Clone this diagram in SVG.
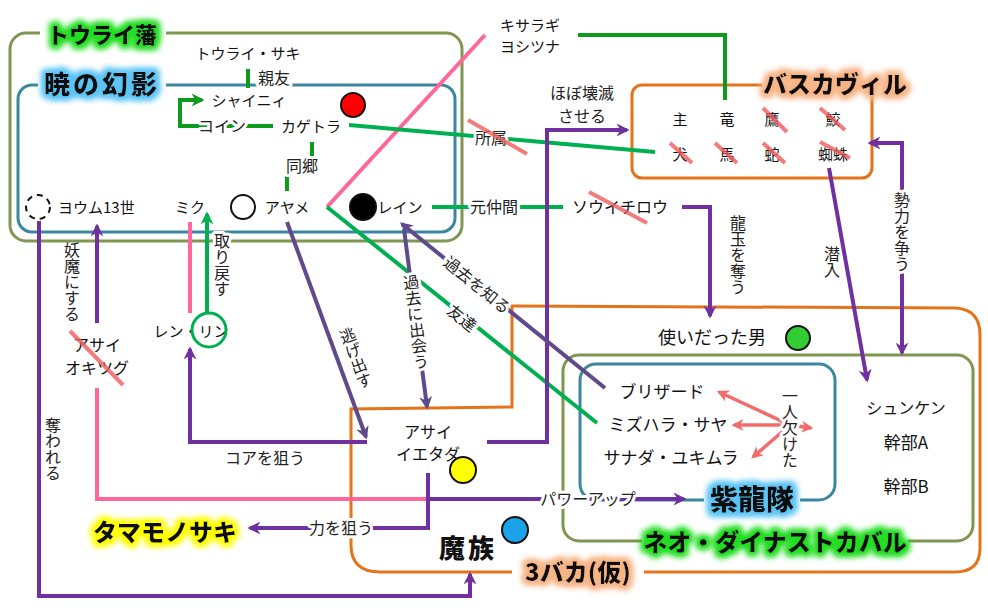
<svg xmlns="http://www.w3.org/2000/svg" width="988" height="612" viewBox="0 0 988 612">
<style>
text{font-family:"Noto Sans CJK JP","Noto Sans",sans-serif;fill:#111}
.n{font-size:15px}
.nb{font-size:16px}
.l{font-size:16px;fill:#222;stroke:#fff;stroke-width:6px;paint-order:stroke;stroke-linejoin:round}
.l0{font-size:16px;fill:#222}
.v{writing-mode:vertical-rl}
.t{font-weight:900;fill:#111}
.c{text-anchor:middle}
.box{fill:none;stroke-width:3}
.olive{stroke:#7f9650}
.teal{stroke:#3b879f}
.orng{stroke:#e4741c}
.ln{fill:none;stroke-width:4}
.g{stroke:#00b050}
.dg{stroke:#0d9a1d}
.p{stroke:#7030a0}
.dp{stroke:#5f4b8b}
.pk{stroke:#ff6699}
.rd{stroke:#f46b6b;stroke-width:3.5;fill:none}
.x{stroke:#f05a5a;stroke-opacity:.8;stroke-width:4}
.dot{stroke:#111;stroke-width:2}
</style>
<defs>
<marker id="aP" viewBox="0 0 10 10" refX="8" refY="5" markerWidth="13" markerHeight="13" markerUnits="userSpaceOnUse" orient="auto-start-reverse"><path d="M0,0 L10,5 L0,10 L3,5 z" fill="#7030a0"/></marker>
<marker id="aD" viewBox="0 0 10 10" refX="8" refY="5" markerWidth="13" markerHeight="13" markerUnits="userSpaceOnUse" orient="auto"><path d="M0,0 L10,5 L0,10 L3,5 z" fill="#5f4b8b"/></marker>
<marker id="aG" viewBox="0 0 10 10" refX="8" refY="5" markerWidth="13" markerHeight="13" markerUnits="userSpaceOnUse" orient="auto"><path d="M0,0 L10,5 L0,10 L3,5 z" fill="#00b050"/></marker>
<marker id="aDG" viewBox="0 0 10 10" refX="8" refY="5" markerWidth="13" markerHeight="13" markerUnits="userSpaceOnUse" orient="auto"><path d="M0,0 L10,5 L0,10 L3,5 z" fill="#0d9a1d"/></marker>
<marker id="aR" viewBox="0 0 10 10" refX="8" refY="5" markerWidth="12" markerHeight="12" markerUnits="userSpaceOnUse" orient="auto"><path d="M0,0 L10,5 L0,10 L3,5 z" fill="#f46b6b"/></marker>
<filter id="fG" x="-20%" y="-60%" width="140%" height="220%"><feMorphology in="SourceAlpha" operator="dilate" radius="2.5" result="d"/><feGaussianBlur in="d" stdDeviation="3" result="b"/><feFlood flood-color="#22dd22"/><feComposite in2="b" operator="in" result="c"/><feMerge><feMergeNode in="c"/><feMergeNode in="c"/><feMergeNode in="SourceGraphic"/></feMerge></filter>
<filter id="fB" x="-20%" y="-60%" width="140%" height="220%"><feMorphology in="SourceAlpha" operator="dilate" radius="2.5" result="d"/><feGaussianBlur in="d" stdDeviation="3" result="b"/><feFlood flood-color="#5cc4f5"/><feComposite in2="b" operator="in" result="c"/><feMerge><feMergeNode in="c"/><feMergeNode in="c"/><feMergeNode in="SourceGraphic"/></feMerge></filter>
<filter id="fO" x="-20%" y="-60%" width="140%" height="220%"><feMorphology in="SourceAlpha" operator="dilate" radius="2.5" result="d"/><feGaussianBlur in="d" stdDeviation="3" result="b"/><feFlood flood-color="#f7b485"/><feComposite in2="b" operator="in" result="c"/><feMerge><feMergeNode in="c"/><feMergeNode in="c"/><feMergeNode in="SourceGraphic"/></feMerge></filter>
<filter id="fY" x="-20%" y="-60%" width="140%" height="220%"><feMorphology in="SourceAlpha" operator="dilate" radius="2.5" result="d"/><feGaussianBlur in="d" stdDeviation="3" result="b"/><feFlood flood-color="#ffff00"/><feComposite in2="b" operator="in" result="c"/><feMerge><feMergeNode in="c"/><feMergeNode in="c"/><feMergeNode in="SourceGraphic"/></feMerge></filter>
</defs>
<rect width="988" height="612" fill="#fff"/>

<!-- containers -->
<g id="touraihan">
<rect class="box olive" x="10" y="33" width="452" height="208" rx="16"/>
<rect x="40" y="24" width="126" height="20" fill="#fff"/>
<text class="t c" x="102" y="43" font-size="22" filter="url(#fG)">トウライ藩</text>
</g>
<g id="akatsuki">
<rect class="box teal" x="18" y="85" width="437" height="147" rx="14"/>
<rect x="38" y="74" width="128" height="22" fill="#fff"/>
<text class="t c" x="102" y="94" font-size="26" letter-spacing="3" filter="url(#fB)">暁の幻影</text>
</g>
<g id="baskerville">
<rect class="box orng" x="632" y="85" width="240" height="93" rx="10"/>
<rect x="762" y="76" width="146" height="18" fill="#fff"/>
<text class="t c" x="835" y="93" font-size="24" filter="url(#fO)">バスカヴィル</text>
<g font-size="15">
<text class="c" x="680" y="125">主</text><text class="c" x="727" y="125">竜</text><text class="c" x="772" y="125">鷹</text><text class="c" x="833" y="125">鮫</text>
<text class="c" x="680" y="160">犬</text><text class="c" x="727" y="160">馬</text><text class="c" x="772" y="160">蛇</text><text class="c" x="833" y="160">蜘蛛</text>
</g>
<path class="x" d="M763,108 L787,132 M820,108 L845,130 M670,143 L692,163 M715,143 L737,163 M763,143 L785,163 M820,142 L850,158"/>
</g>
<g id="sanbaka">
<path class="box orng" d="M515,306 L955,308 Q980,309 980,335 L980,548 Q980,572 955,572 L380,572 Q351,572 351,545 L351,409 L512,407 L512,306 Z"/>
<rect x="512" y="562" width="132" height="20" fill="#fff"/>
<text class="t c" x="578" y="581" font-size="24" filter="url(#fO)">3バカ(仮)</text>
</g>
<g id="neo">
<rect class="box olive" x="563" y="355" width="410" height="186" rx="16"/>
<rect x="642" y="532" width="266" height="20" fill="#fff"/>
<text class="t c" x="775" y="551" font-size="24" filter="url(#fG)">ネオ・ダイナストカバル</text>
</g>
<g id="shiryutai">
<rect class="box teal" x="580" y="364" width="255" height="136" rx="16"/>
<rect x="704" y="488" width="96" height="22" fill="#fff"/>
<text class="t c" x="752" y="510" font-size="28" filter="url(#fB)">紫龍隊</text>
</g>

<!-- connectors -->
<g id="connectors">
<path class="ln pk" d="M327,207 L485,35"/>
<path class="ln pk" d="M190,222 V313"/>
<path class="ln pk" d="M97,388 V499 H428"/>
<path class="ln dg" d="M248,69 V88"/>
<path class="ln dg" d="M273,126 H180 V100 H202" marker-end="url(#aDG)"/>
<path class="ln dg" d="M312,142 V166 H287 V191"/>
<path class="ln g" d="M349,125 L655,152"/>
<path class="ln g" d="M432,207 H563"/>
<path class="ln g" d="M327,207 L597,423"/>
<path class="ln dg" d="M578,35 H725 V100"/>
<path class="ln g" d="M207,313 V214" marker-end="url(#aG)"/>
<path class="ln p" d="M97,323 V226" marker-end="url(#aP)"/>
<path class="ln p" d="M39,221 V596 H470 V574" marker-end="url(#aP)"/>
<path class="ln p" d="M367,442 H190 V349" marker-end="url(#aP)"/>
<path class="ln p" d="M428,473 V528 H250" marker-end="url(#aP)"/>
<path class="ln p" d="M428,499 H684" marker-end="url(#aP)"/>
<path class="ln p" d="M487,442 H547 V130 H627" marker-end="url(#aP)"/>
<path class="ln p" d="M682,207 H710 V316" marker-end="url(#aP)"/>
<path class="ln p" d="M829,168 L867,380" marker-end="url(#aP)"/>
<path class="ln p" d="M870,143 H902 V353" marker-start="url(#aP)" marker-end="url(#aP)"/>
<path class="ln dp" d="M287,222 L366,437" marker-end="url(#aD)"/>
<path class="ln dp" d="M404,229 L427,407" marker-end="url(#aD)"/>
<path class="ln dp" d="M605,388 L402,224" marker-end="url(#aD)"/>
<path class="rd" d="M790,425 L719,392" marker-end="url(#aR)"/>
<path class="rd" d="M790,425 L734,425" marker-end="url(#aR)"/>
<path class="rd" d="M790,425 L753,457" marker-end="url(#aR)"/>
<path class="rd" d="M790,425 L811,428" marker-end="url(#aR)"/>
<!-- labels -->
<text class="l" x="258" y="84">親友</text>
<text class="l c" x="222" y="132">コイン</text>
<text class="l c" x="302" y="172">同郷</text>
<text class="l c" x="491" y="144">所属</text>
<path class="x" d="M468,120 L527,154"/>
<text class="l c" x="494" y="213">元仲間</text>
<text class="l c" transform="translate(462,318) rotate(38.7)" y="6">友達</text>
<text class="l v c" x="222" y="265">取り戻す</text>
<text class="l0 v c" x="72" y="282">妖魔にする</text>
<text class="l0 v c" x="53" y="449">奪われる</text>
<text class="l0 c" x="265" y="464">コアを狙う</text>
<text class="l c" x="341" y="534">力を狙う</text>
<text class="l c" x="588" y="505">パワーアップ</text>
<text class="l0 c" x="582" y="99" font-size="15">ほぼ壊滅</text>
<text class="l0 c" x="582" y="122" font-size="15">させる</text>
<text class="l0 v c" x="738" y="255">龍玉を奪う</text>
<text class="l0 v c" x="832" y="262">潜入</text>
<text class="l v c" x="902" y="232">勢力を争う</text>
<text class="l v c" transform="translate(356,358) rotate(-20)" x="0" y="0">逃げ出す</text>
<text class="l v c" transform="translate(416,322) rotate(-7)" x="0" y="0">過去に出会う</text>
<text class="l c" transform="translate(477,285) rotate(39)" y="6">過去を知る</text>
<text class="l v c" x="790" y="428">一人欠けた</text>
</g>

<!-- nodes -->
<g id="tourai-saki"><text class="n c" x="248" y="59">トウライ・サキ</text></g>
<g id="shainii"><text class="n c" x="249" y="106">シャイニィ</text></g>
<g id="kagetora"><text class="n c" x="311" y="132">カゲトラ</text><circle class="dot" cx="353" cy="105" r="12" fill="#ff0000"/></g>
<g id="youmu"><circle cx="38" cy="207" r="12" fill="#fff" stroke="#111" stroke-width="2" stroke-dasharray="6 5"/><text class="n" x="58" y="213">ヨウム13世</text></g>
<g id="miku"><text class="n c" x="190" y="213">ミク</text></g>
<g id="ayame"><circle class="dot" cx="243" cy="207" r="12" fill="#fff"/><text class="n c" x="287" y="213">アヤメ</text></g>
<g id="rein"><circle class="dot" cx="363" cy="207" r="13" fill="#000"/><text class="n c" x="400" y="213">レイン</text></g>
<g id="souichirou"><text class="nb c" x="620" y="213">ソウイチロウ</text><path class="x" d="M589,192 L647,223"/></g>
<g id="kisaragi"><text class="n" x="500" y="31">キサラギ</text><text class="n" x="500" y="52">ヨシツナ</text></g>
<g id="asai-okitsugu"><text class="nb c" x="97" y="351">アサイ</text><text class="nb c" x="97" y="374">オキツグ</text><path class="x" d="M70,331 L123,385"/></g>
<g id="ren-rin"><text class="n c" x="191" y="337">レン・リン</text><circle cx="209" cy="330" r="17" fill="none" stroke="#00b050" stroke-width="3"/></g>
<g id="asai-ietada"><text class="nb c" x="428" y="438">アサイ</text><text class="nb c" x="428" y="460">イエタダ</text><circle class="dot" cx="463" cy="470" r="13" fill="#ffff00"/></g>
<g id="tamamonosaki"><text class="t c" x="165" y="541" font-size="24" filter="url(#fY)">タマモノサキ</text></g>
<g id="mazoku"><circle class="dot" cx="515" cy="530" r="13" fill="#1aa3e8"/><text class="t c" x="468" y="558" font-size="26" letter-spacing="3">魔族</text></g>
<g id="tsukai"><text class="c" x="712" y="344" font-size="18">使いだった男</text><circle class="dot" cx="798" cy="338" r="12" fill="#33cc33"/></g>
<g id="blizzard"><text class="c" x="662" y="398" font-size="17">ブリザード</text></g>
<g id="mizuhara"><text class="c" x="668" y="431" font-size="17">ミズハラ・サヤ</text></g>
<g id="sanada"><text class="c" x="671" y="464" font-size="17">サナダ・ユキムラ</text></g>
<g id="shunken"><text class="c" x="906" y="414" font-size="16">シュンケン</text></g>
<g id="kanbuA"><text class="c" x="906" y="449" font-size="17">幹部A</text></g>
<g id="kanbuB"><text class="c" x="906" y="493" font-size="17">幹部B</text></g>
</svg>
